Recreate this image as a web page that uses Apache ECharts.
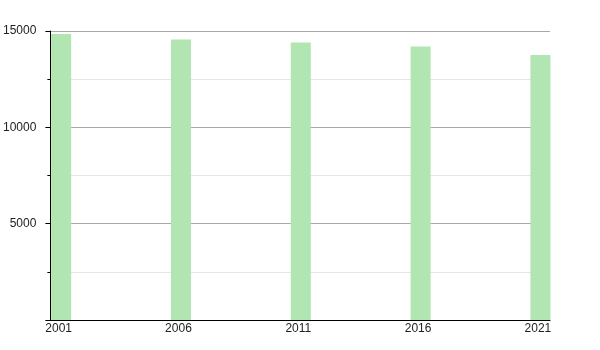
<!DOCTYPE html>
<html><head><meta charset="utf-8">
<script src="https://cdn.jsdelivr.net/npm/echarts@6/dist/echarts.min.js"></script>
<style>html,body{margin:0;padding:0;background:#fff}#c{width:600px;height:350px}</style>
</head><body><div id="c"></div>
<script>
var years = [2001, 2006, 2011, 2016, 2021];
var population = [14850, 14560, 14400, 14200, 13750];
var yTicks = [5000, 10000, 15000];

var chart = echarts.init(document.getElementById('c'), null, {renderer: 'canvas'});
chart.setOption({
  animation: false,
  grid: {left: 50, right: 50, top: 31, bottom: 30, containLabel: false},
  xAxis: {
    type: 'value', min: 2000.55, max: 2021.4,
    axisLine: {show: true, onZero: false, lineStyle: {color: '#000', width: 1}},
    axisTick: {show: false},
    splitLine: {show: false},
    axisLabel: {customValues: years, color: '#222', fontFamily: 'Liberation Sans', fontSize: 12, margin: 3,
      padding: [0, 5, 0, 0],
      formatter: function (v) { return String(v); }}
  },
  yAxis: {
    type: 'value', min: 0, max: 15000, interval: 5000,
    axisLine: {show: true, lineStyle: {color: '#000', width: 1}},
    axisTick: {show: true, length: 5, lineStyle: {color: '#000'}},
    minorTick: {show: true, splitNumber: 2, length: 3, lineStyle: {color: '#000'}},
    splitLine: {show: true, lineStyle: {color: '#aaa', width: 1}},
    minorSplitLine: {show: true, lineStyle: {color: '#e6e6e6', width: 1}},
    axisLabel: {color: '#222', fontFamily: 'Liberation Sans', fontSize: 12, margin: 14,
      formatter: function (v) { return yTicks.indexOf(v) >= 0 ? String(v) : ''; }}
  },
  series: [{
    type: 'bar', barWidth: 20,
    data: years.map(function (y, i) { return [y, population[i]]; }),
    itemStyle: {color: '#b1e5b1'}
  }]
});
</script></body></html>
